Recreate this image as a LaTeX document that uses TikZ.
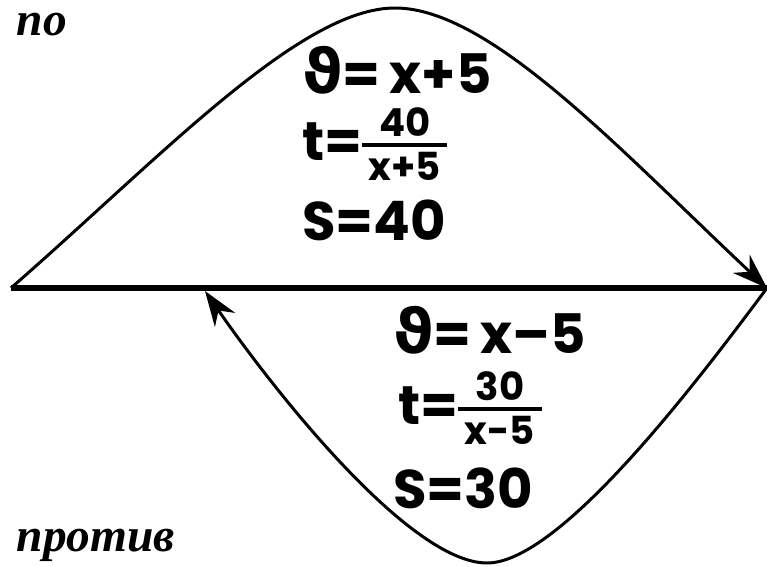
\documentclass[tikz,border=0pt]{standalone}
\usepackage{fontspec}
\setmainfont{Liberation Serif}
\newfontfamily\hand{Poppins}
\newfontfamily\grec{DejaVu Sans}
\usetikzlibrary{arrows.meta, positioning}

\tikzset{
  ligne/.style={line width=3.4pt},
  courbe/.style={line width=1.7pt},
  formule/.style={font=\hand\bfseries\fontsize{31}{31}\selectfont, inner sep=0pt, anchor=west},
  mot/.style={font=\bfseries\itshape\fontsize{27}{27}\selectfont, inner sep=1pt},
  fleche/.style={-{Stealth[length=20pt,width=14pt]}}
}
\newcommand{\vit}{{\grec\bfseries\fontsize{35}{35}\selectfont ϑ}}
\newcommand{\fracmain}[2]{$\vcenter{\hbox{\fontsize{22}{22}\selectfont\setlength{\arrayrulewidth}{2.5pt}%
  \begin{tabular}{@{\,}c@{\,}}#1\\[-3pt]\hline\rule{0pt}{19pt}#2\end{tabular}}}$}

\begin{document}
\begin{tikzpicture}[x=0.02cm, y=-0.02cm]
    \useasboundingbox (0,0) rectangle (767,567);

    % Axe
    \coordinate (gauche) at (11,288);
    \coordinate (droite) at (767,288);
    \coordinate (sommet) at (395,8);
    \coordinate (fond) at (487,563);
    \coordinate (pointe) at (205,291);
    \draw[ligne] (gauche) -- (droite);

    % Courbes
    \draw[courbe, fleche] (gauche) .. controls (161,157) and (300,8) .. (sommet)
      .. controls (490,8) and (620,150) .. (droite);
    \draw[courbe, fleche] (droite) .. controls (697,382) and (560,563) .. (fond)
      .. controls (410,563) and (275,392) .. (pointe);

    % Libelles
    \node[mot] (po) at (42,25) {по};
    \node[mot] (protiv) at (96,545) {против};

    \node[formule] (vpo) at (302,70) {\vit=\,x+5};
    \node[formule] (tpo) at (302,150) {t=\fracmain{40}{x+5}};
    \node[formule] (spo) at (302,220) {S=40};

    \node[formule] (vpr) at (393,330) {\vit=\,x–5};
    \node[formule] (tpr) at (398,414) {t=\fracmain{30}{x-5}};
    \node[formule] (spr) at (393,488) {S=30};
  \end{tikzpicture}
\end{document}
